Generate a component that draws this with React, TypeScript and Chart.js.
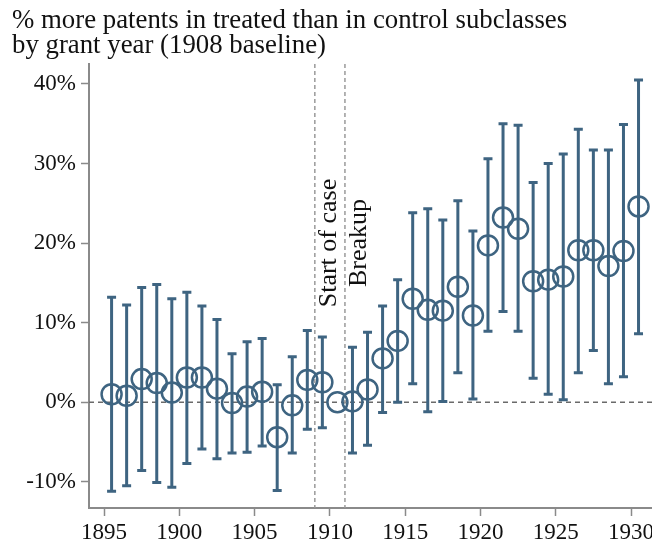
import { useEffect, useRef } from "react";
import { Chart, registerables } from "chart.js";

Chart.register(...registerables);

const years = [
  1895, 1896, 1897, 1898, 1899, 1900, 1901, 1902, 1903, 1904, 1905, 1906,
  1907, 1908, 1909, 1910, 1911, 1912, 1913, 1914, 1915, 1916, 1917, 1918,
  1919, 1920, 1921, 1922, 1923, 1924, 1925, 1926, 1927, 1928, 1929, 1930,
];
const estimates = [
  1.0, 0.8, 2.9, 2.4, 1.2, 3.1, 3.1, 1.7, -0.1, 0.7, 1.3, -4.4,
  -0.4, 2.8, 2.5, 0.0, 0.1, 1.6, 5.5, 7.7, 13.0, 11.6, 11.5, 14.5,
  10.9, 19.7, 23.2, 21.8, 15.2, 15.4, 15.8, 19.1, 19.1, 17.1, 19.0, 24.6,
];
const upperBounds: (number | null)[] = [
  13.2, 12.2, 14.4, 14.8, 13.0, 13.8, 12.1, 10.4, 6.1, 7.6, 8.0, 2.2,
  5.7, 9.0, 8.2, null, 6.9, 8.8, 12.1, 15.4, 23.8, 24.3, 22.9, 25.3,
  21.5, 30.6, 35.0, 34.8, 27.6, 30.0, 31.2, 34.3, 31.7, 31.7, 34.9, 40.5,
];
const lowerBounds: (number | null)[] = [
  -11.2, -10.5, -8.6, -10.1, -10.7, -7.7, -5.9, -7.1, -6.4, -6.3, -5.5, -11.1,
  -6.4, -3.4, -3.2, null, -6.4, -5.4, -1.3, 0.0, 2.3, -1.2, 0.1, 3.7,
  0.4, 8.9, 11.4, 8.9, 3.0, 1.0, 0.3, 3.7, 6.5, 2.3, 3.2, 8.6,
];
const yTickValues = [-10, 0, 10, 20, 30, 40];
const xTickValues = [1895, 1900, 1905, 1910, 1915, 1920, 1925, 1930];
const eventYears = [1909, 1911];
const eventLabels = ["Start of case", "Breakup"];
const titleLines = [
  "% more patents in treated than in control subclasses",
  "by grant year (1908 baseline)",
];

const BLUE = "#3e6481";
const AXIS = "#8a8a8a";
const FONT = "'Liberation Serif', 'Times New Roman', serif";
const YEAR_OFFSET = 0.5;

const overlayPlugin = {
  id: "overlay",
  beforeDatasetsDraw(chart: any) {
    const { ctx, chartArea: a, scales } = chart;
    const x = scales.x;
    const y = scales.y;
    ctx.save();
    const y0 = y.getPixelForValue(0);
    ctx.setLineDash([5, 4]);
    ctx.strokeStyle = "#6a6a6a";
    ctx.lineWidth = 1.5;
    ctx.beginPath();
    ctx.moveTo(a.left, y0);
    ctx.lineTo(a.right, y0);
    ctx.stroke();
    ctx.setLineDash([4, 3]);
    ctx.strokeStyle = "#9a9a9a";
    ctx.lineWidth = 1.5;
    eventYears.forEach((v) => {
      const px = x.getPixelForValue(v);
      ctx.beginPath();
      ctx.moveTo(px, a.top);
      ctx.lineTo(px, a.bottom);
      ctx.stroke();
    });
    ctx.setLineDash([]);
    ctx.fillStyle = "#111";
    ctx.font = `26px ${FONT}`;
    ctx.textAlign = "center";
    ctx.textBaseline = "alphabetic";
    const yc = y.getPixelForValue(20);
    eventYears.forEach((v, i) => {
      const px = x.getPixelForValue(v);
      ctx.save();
      ctx.translate(px + 21, yc);
      ctx.rotate(-Math.PI / 2);
      ctx.fillText(eventLabels[i], 0, 0);
      ctx.restore();
    });
    ctx.strokeStyle = BLUE;
    ctx.lineWidth = 3;
    ctx.lineCap = "butt";
    years.forEach((yr, i) => {
      const hi = upperBounds[i];
      const lo = lowerBounds[i];
      if (hi == null || lo == null) return;
      const px = x.getPixelForValue(yr + YEAR_OFFSET);
      const pt = y.getPixelForValue(hi);
      const pb = y.getPixelForValue(lo);
      ctx.beginPath();
      ctx.moveTo(px, pt);
      ctx.lineTo(px, pb);
      ctx.moveTo(px - 4.5, pt);
      ctx.lineTo(px + 4.5, pt);
      ctx.moveTo(px - 4.5, pb);
      ctx.lineTo(px + 4.5, pb);
      ctx.stroke();
    });
    ctx.restore();
  },
  afterDraw(chart: any) {
    const { ctx } = chart;
    ctx.save();
    ctx.fillStyle = "#111";
    ctx.font = `26.8px ${FONT}`;
    ctx.textAlign = "left";
    ctx.textBaseline = "alphabetic";
    ctx.fillText(titleLines[0], 12, 28);
    ctx.fillText(titleLines[1], 12, 53);
    ctx.restore();
  },
};

export default function App() {
  const ref = useRef<HTMLCanvasElement | null>(null);

  useEffect(() => {
    if (!ref.current) return;
    const chart = new Chart(ref.current, {
      type: "scatter",
      data: {
        datasets: [
          {
            data: years.map((yr, i) => ({ x: yr + YEAR_OFFSET, y: estimates[i] })),
            pointStyle: "circle",
            pointRadius: 10,
            pointBorderWidth: 2.5,
            pointBorderColor: BLUE,
            pointBackgroundColor: "rgba(0,0,0,0)",
            showLine: false,
          },
        ],
      },
      options: {
        responsive: false,
        animation: false,
        events: [],
        layout: { padding: { top: 64, left: 0, right: 0, bottom: 0 }, autoPadding: false },
        plugins: {
          legend: { display: false },
          tooltip: { enabled: false },
          title: { display: false },
        },
        scales: {
          x: {
            type: "linear",
            min: 1894,
            max: 1931.4,
            afterBuildTicks: (s: any) => {
              s.ticks = xTickValues.map((v) => ({ value: v }));
            },
            afterFit: (s: any) => {
              s.height = 40;
            },
            ticks: {
              autoSkip: false,
              maxRotation: 0,
              padding: 3,
              color: "#111",
              font: { family: FONT, size: 23 },
              callback: (v: any) => String(v),
            },
            grid: {
              drawOnChartArea: false,
              drawTicks: true,
              tickLength: 8,
              tickColor: AXIS,
              tickWidth: 1.5,
            },
            border: { display: true, color: AXIS, width: 2 },
          },
          y: {
            type: "linear",
            min: -13.3,
            max: 42.5,
            afterBuildTicks: (s: any) => {
              s.ticks = yTickValues.map((v) => ({ value: v }));
            },
            afterFit: (s: any) => {
              s.width = 89;
            },
            ticks: {
              autoSkip: false,
              padding: 5,
              color: "#111",
              font: { family: FONT, size: 23 },
              callback: (v: any) => `${v}%`,
            },
            grid: {
              drawOnChartArea: false,
              drawTicks: true,
              tickLength: 8,
              tickColor: AXIS,
              tickWidth: 1.5,
            },
            border: { display: true, color: AXIS, width: 2 },
          },
        },
      },
      plugins: [overlayPlugin],
    });
    return () => chart.destroy();
  }, []);

  return (
    <div
      style={{
        position: "absolute",
        left: 0,
        top: 0,
        width: 652,
        height: 548,
        overflow: "hidden",
        background: "#fff",
      }}
    >
      <canvas ref={ref} width={657} height={548} style={{ width: 657, height: 548, display: "block" }} />
    </div>
  );
}
